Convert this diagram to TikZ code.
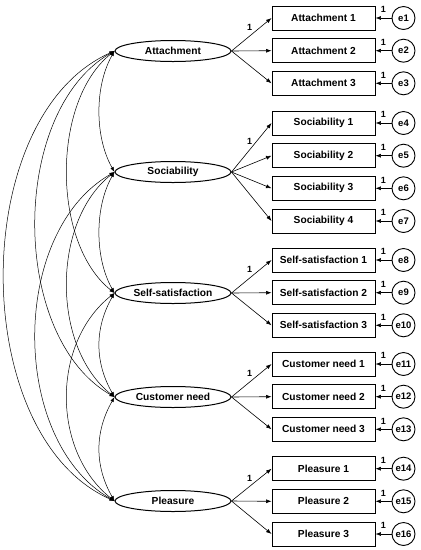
\documentclass[tikz,border=0pt]{standalone}
\usepackage{fontspec}
\setmainfont{Liberation Sans}
\usetikzlibrary{arrows.meta,shapes.geometric}
\begin{document}
\begin{tikzpicture}[x=1pt,y=-1pt,
  lat/.style={draw, ellipse, minimum width=116pt, minimum height=21pt, inner sep=0pt, line width=1pt, font=\fontsize{10.2}{12}\selectfont\bfseries},
  obs/.style={draw, rectangle, minimum width=103pt, minimum height=24pt, inner sep=0pt, line width=0.9pt, font=\fontsize{10.2}{12}\selectfont\bfseries},
  err/.style={draw, circle, minimum size=23pt, inner sep=0pt, line width=0.9pt, font=\fontsize{9.5}{11}\selectfont\bfseries},
  load/.style={-{Latex[length=5.5pt,width=4pt]}, line width=0.6pt},
  cov/.style={{Latex[length=5pt,width=3.6pt]}-{Latex[length=5pt,width=3.6pt]}, line width=0.5pt},
  one/.style={font=\fontsize{9}{10}\selectfont\bfseries, inner sep=0pt}]
\useasboundingbox (0,0) rectangle (421,550);
% latent variables
\node[lat] (L1) at (173,51) {Attachment};
\node[lat] (L2) at (173,172) {Sociability};
\node[lat] (L3) at (173,293) {Self-satisfaction};
\node[lat] (L4) at (173,397) {Customer need};
\node[lat] (L5) at (173,501) {Pleasure};
% observed variables and errors
\foreach \n/\t/\y in {1/Attachment 1/18, 2/Attachment 2/50.7, 3/Attachment 3/83.3,
  4/Sociability 1/123, 5/Sociability 2/155.7, 6/Sociability 3/188.3, 7/Sociability 4/221,
  8/Self-satisfaction 1/260, 9/Self-satisfaction 2/292.7, 10/Self-satisfaction 3/325.3,
  11/Customer need 1/364, 12/Customer need 2/396.7, 13/Customer need 3/429.3,
  14/Pleasure 1/468.7, 15/Pleasure 2/501.3, 16/Pleasure 3/534}{
  \node[obs] (b\n) at (323.5,\y) {\t};
  \node[err] (e\n) at (403.5,\y) {e\n};
  \draw[load] (e\n.west) -- node[one, midway, above=5pt] {1} (b\n.east);
}
% loadings
\draw[load] (L1.east) -- node[one, pos=0.45, above=5pt] {1} (b1.west);
\foreach \k in {2,3} \draw[load] (L1.east) -- (b\k.west);
\draw[load] (L2.east) -- node[one, pos=0.45, above=5pt] {1} (b4.west);
\foreach \k in {5,6,7} \draw[load] (L2.east) -- (b\k.west);
\draw[load] (L3.east) -- node[one, pos=0.45, above=5pt] {1} (b8.west);
\foreach \k in {9,10} \draw[load] (L3.east) -- (b\k.west);
\draw[load] (L4.east) -- node[one, pos=0.45, above=5pt] {1} (b11.west);
\foreach \k in {12,13} \draw[load] (L4.east) -- (b\k.west);
\draw[load] (L5.east) -- node[one, pos=0.45, above=5pt] {1} (b14.west);
\foreach \k in {15,16} \draw[load] (L5.east) -- (b\k.west);
% covariances
\foreach \i/\j/\d/\h in {L1/L2/20/35, L2/L3/20/35, L3/L4/20/35, L4/L5/20/35,
  L1/L3/63/50, L2/L4/63/50, L3/L5/63/50, L1/L4/105/60, L2/L5/105/60, L1/L5/147/65}
  \draw[cov] (\i.west) .. controls +(-\d,\h) and +(-\d,-\h) .. (\j.west);
\end{tikzpicture}
\end{document}
